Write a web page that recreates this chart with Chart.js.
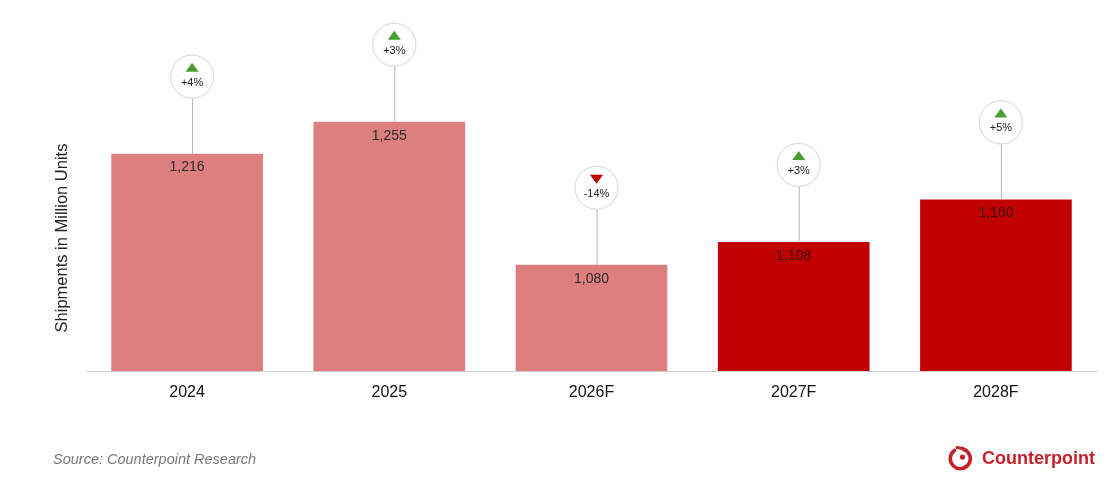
<!DOCTYPE html>
<html>
<head>
<meta charset="utf-8">
<script src="https://cdn.jsdelivr.net/npm/chart.js@4/dist/chart.umd.min.js"></script>
<style>
  html, body { margin: 0; padding: 0; background: #fff; }
  #wrap { position: relative; width: 1113px; height: 480px; font-family: "Liberation Sans", Arial, sans-serif; }
  canvas { position: absolute; left: 0; top: 0; }
  #source { position: absolute; left: 53px; top: 451px; font-size: 14.5px; font-style: italic; color: #7a7a7a; }
  #logo { position: absolute; left: 948px; top: 445px; display: flex; align-items: center; }
  #logo span { font-family: "Liberation Sans", Arial, sans-serif; font-weight: 700; font-size: 18px; color: #c8202a; margin-left: 9px; }
</style>
</head>
<body>
<div id="wrap">
  <canvas id="c" width="1113" height="480"></canvas>
  <div id="source">Source: Counterpoint Research</div>
  <div id="logo">
    <svg width="25" height="27" viewBox="0 0 25 27">
      <path d="M 15.5 4.2 A 10 10 0 1 1 6.5 5.5" fill="none" stroke="#c8202a" stroke-width="3.6" stroke-linecap="round"/>
      <path d="M 9 2.5 L 15 3.5" fill="none" stroke="#c8202a" stroke-width="3" stroke-linecap="round"/>
      <circle cx="14.5" cy="12" r="2.6" fill="#c8202a"/>
    </svg>
    <span>Counterpoint</span>
  </div>
</div>
<script>
const categories = ['2024', '2025', '2026F', '2027F', '2028F'];
const shipments = [1216, 1255, 1080, 1108, 1160];
const growthLabels = ['+4%', '+3%', '-14%', '+3%', '+5%'];
const growthDirection = [1, 1, -1, 1, 1];
const yTitle = 'Shipments in Million Units';

const LIGHT = '#de7f7f';
const DARK = '#c00000';

const overlay = {
  id: 'overlay',
  afterDatasetsDraw(chart) {
    const ctx = chart.ctx;
    const meta = chart.getDatasetMeta(0);
    ctx.save();
    meta.data.forEach((bar, i) => {
      // value label
      ctx.font = '14px "Liberation Sans", Arial, sans-serif';
      ctx.textAlign = 'center';
      ctx.textBaseline = 'middle';
      ctx.fillStyle = i >= 3 ? '#3a0606' : '#2b2b2b';
      ctx.fillText(shipments[i].toLocaleString('en-US'), bar.x, bar.y + 14);

      // bubble
      const cx = bar.x + 5;
      const cy = bar.y - 77;
      const r = 21.5;
      ctx.strokeStyle = '#b5b5b5';
      ctx.lineWidth = 1;
      ctx.beginPath();
      ctx.moveTo(cx + 0.5, cy + r);
      ctx.lineTo(cx + 0.5, bar.y);
      ctx.stroke();

      ctx.shadowColor = 'rgba(0,0,0,0.08)';
      ctx.shadowBlur = 3;
      ctx.beginPath();
      ctx.arc(cx, cy, r, 0, Math.PI * 2);
      ctx.fillStyle = '#ffffff';
      ctx.fill();
      ctx.shadowBlur = 0;
      ctx.shadowColor = 'transparent';
      ctx.strokeStyle = '#d9d9d9';
      ctx.stroke();

      // triangle
      const ty = cy - 9;
      ctx.beginPath();
      if (growthDirection[i] > 0) {
        ctx.moveTo(cx, ty - 5);
        ctx.lineTo(cx + 6.5, ty + 4);
        ctx.lineTo(cx - 6.5, ty + 4);
        ctx.fillStyle = '#4a9e2e';
      } else {
        ctx.moveTo(cx - 6.5, ty - 4);
        ctx.lineTo(cx + 6.5, ty - 4);
        ctx.lineTo(cx, ty + 5);
        ctx.fillStyle = '#c00000';
      }
      ctx.closePath();
      ctx.fill();

      ctx.font = '11px "Liberation Sans", Arial, sans-serif';
      ctx.fillStyle = '#222';
      ctx.fillText(growthLabels[i], cx, cy + 6);
    });

    // y axis title
    ctx.translate(62, 238);
    ctx.rotate(-Math.PI / 2);
    ctx.font = '16.5px "Liberation Sans", Arial, sans-serif';
    ctx.fillStyle = '#222';
    ctx.textAlign = 'center';
    ctx.textBaseline = 'middle';
    ctx.fillText(yTitle, 0, 0);
    ctx.restore();
  }
};

new Chart(document.getElementById('c'), {
  type: 'bar',
  data: {
    labels: categories,
    datasets: [{
      data: shipments,
      backgroundColor: ctx => ctx.dataIndex >= 3 ? DARK : LIGHT,
      borderWidth: 0,
      categoryPercentage: 1,
      barPercentage: 0.75
    }]
  },
  options: {
    responsive: false,
    animation: false,
    devicePixelRatio: 1,
    layout: { padding: { left: 86, right: 16, top: 85, bottom: 0 } },
    plugins: { legend: { display: false }, tooltip: { enabled: false } },
    scales: {
      x: {
        grid: { display: false, drawTicks: false },
        border: { display: true, color: '#cfcfcf', width: 1 },
        ticks: {
          color: '#111',
          font: { family: '"Liberation Sans", Arial, sans-serif', size: 16 },
          padding: 12
        },
        afterFit(scale) { scale.height = 109; }
      },
      y: {
        display: false,
        min: 950,
        max: 1300
      }
    }
  },
  plugins: [overlay]
});
</script>
</body>
</html>
